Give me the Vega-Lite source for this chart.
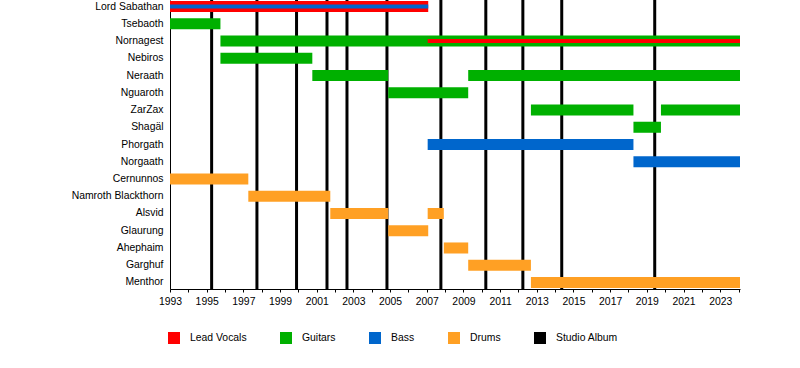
{
  "$schema": "https://vega.github.io/schema/vega-lite/v6.json",
  "autosize": "none",
  "width": 570,
  "height": 289,
  "padding": {"left": 170, "top": 0, "right": 60, "bottom": 79},
  "background": "white",
  "config": {
    "view": {"stroke": null},
    "font": "Liberation Sans",
    "axis": {"labelFont": "Liberation Sans", "labelColor": "black", "labelFontSize": 10.4},
    "legend": {"labelFont": "Liberation Sans", "labelColor": "black", "labelFontSize": 10.4}
  },
  "datasets": {
    "members": [
      {"member": "Lord Sabathan", "role": "Lead Vocals", "start": 1993, "end": 2007.08, "layer": "main"},
      {"member": "Tsebaoth", "role": "Guitars", "start": 1993, "end": 1995.75, "layer": "main"},
      {"member": "Nornagest", "role": "Guitars", "start": 1995.75, "end": 2024.08, "layer": "main"},
      {"member": "Nebiros", "role": "Guitars", "start": 1995.75, "end": 2000.76, "layer": "main"},
      {"member": "Neraath", "role": "Guitars", "start": 2000.76, "end": 2004.9, "layer": "main"},
      {"member": "Neraath", "role": "Guitars", "start": 2009.26, "end": 2024.08, "layer": "main"},
      {"member": "Nguaroth", "role": "Guitars", "start": 2004.9, "end": 2009.26, "layer": "main"},
      {"member": "ZarZax", "role": "Guitars", "start": 2012.68, "end": 2018.27, "layer": "main"},
      {"member": "ZarZax", "role": "Guitars", "start": 2019.77, "end": 2024.08, "layer": "main"},
      {"member": "Shagäl", "role": "Guitars", "start": 2018.27, "end": 2019.77, "layer": "main"},
      {"member": "Phorgath", "role": "Bass", "start": 2007.05, "end": 2018.27, "layer": "main"},
      {"member": "Norgaath", "role": "Bass", "start": 2018.27, "end": 2024.08, "layer": "main"},
      {"member": "Cernunnos", "role": "Drums", "start": 1993, "end": 1997.27, "layer": "main"},
      {"member": "Namroth Blackthorn", "role": "Drums", "start": 1997.27, "end": 2001.74, "layer": "main"},
      {"member": "Alsvid", "role": "Drums", "start": 2001.74, "end": 2004.9, "layer": "main"},
      {"member": "Alsvid", "role": "Drums", "start": 2007.05, "end": 2007.93, "layer": "main"},
      {"member": "Glaurung", "role": "Drums", "start": 2004.9, "end": 2007.08, "layer": "main"},
      {"member": "Ahephaim", "role": "Drums", "start": 2007.93, "end": 2009.26, "layer": "main"},
      {"member": "Garghuf", "role": "Drums", "start": 2009.26, "end": 2012.68, "layer": "main"},
      {"member": "Menthor", "role": "Drums", "start": 2012.68, "end": 2024.08, "layer": "main"},
      {"member": "Lord Sabathan", "role": "Bass", "start": 1993, "end": 2007.08, "layer": "stripe"},
      {"member": "Nornagest", "role": "Lead Vocals", "start": 2007.05, "end": 2024.08, "layer": "stripe"}
    ],
    "albums": [
      {"start": 1995.27}, {"start": 1997.74}, {"start": 1999.9}, {"start": 2001.56},
      {"start": 2002.65}, {"start": 2004.83}, {"start": 2007.77}, {"start": 2010.22},
      {"start": 2012.24}, {"start": 2014.36}, {"start": 2019.43}
    ]
  },
  "encoding": {
    "x": {
      "field": "start", "type": "quantitative",
      "scale": {"domain": [1993, 2024.08], "nice": false, "zero": false},
      "axis": {
        "title": null, "grid": false, "format": "d",
        "values": [1993,1994,1995,1996,1997,1998,1999,2000,2001,2002,2003,2004,2005,2006,2007,2008,2009,2010,2011,2012,2013,2014,2015,2016,2017,2018,2019,2020,2021,2022,2023,2024],
        "labelExpr": "datum.value % 2 == 1 ? datum.label : ''",
        "labelOverlap": false, "labelFlush": false,
        "domainColor": "black", "tickColor": "black", "tickSize": 3, "labelPadding": 4
      }
    }
  },
  "layer": [
    {
      "data": {"name": "albums"},
      "mark": {"type": "rule", "color": "black", "strokeWidth": 3},
      "encoding": {}
    },
    {
      "data": {"name": "members"},
      "transform": [{"filter": "datum.layer == 'main'"}],
      "mark": {"type": "bar"},
      "encoding": {
        "y": {
          "field": "member", "type": "nominal",
          "sort": ["Lord Sabathan", "Tsebaoth", "Nornagest", "Nebiros", "Neraath", "Nguaroth", "ZarZax", "Shagäl", "Phorgath", "Norgaath", "Cernunnos", "Namroth Blackthorn", "Alsvid", "Glaurung", "Ahephaim", "Garghuf", "Menthor"],
          "scale": {"paddingInner": 0.36, "paddingOuter": 0.058},
          "axis": {"title": null, "ticks": false, "domainColor": "black", "domainWidth": 1, "labelPadding": 7}
        },
        "x2": {"field": "end"},
        "color": {
          "field": "role", "type": "nominal",
          "scale": {
            "domain": ["Lead Vocals", "Guitars", "Bass", "Drums", "Studio Album"],
            "range": ["#ff0000", "#00b000", "#0066cc", "#ffa024", "#000000"]
          },
          "legend": {
            "title": null, "orient": "none", "direction": "horizontal", "columns": 5,
            "legendX": -2, "legendY": 332,
            "symbolType": "square", "symbolSize": 144, "symbolStrokeWidth": 0,
            "labelOffset": 10, "columnPadding": 33
          }
        }
      }
    },
    {
      "data": {"name": "members"},
      "transform": [{"filter": "datum.layer == 'stripe'"}],
      "mark": {"type": "bar", "size": 4},
      "encoding": {
        "y": {
          "field": "member", "type": "nominal",
          "sort": ["Lord Sabathan", "Tsebaoth", "Nornagest", "Nebiros", "Neraath", "Nguaroth", "ZarZax", "Shagäl", "Phorgath", "Norgaath", "Cernunnos", "Namroth Blackthorn", "Alsvid", "Glaurung", "Ahephaim", "Garghuf", "Menthor"]
        },
        "x2": {"field": "end"},
        "color": {"field": "role", "type": "nominal"}
      }
    }
  ]
}
